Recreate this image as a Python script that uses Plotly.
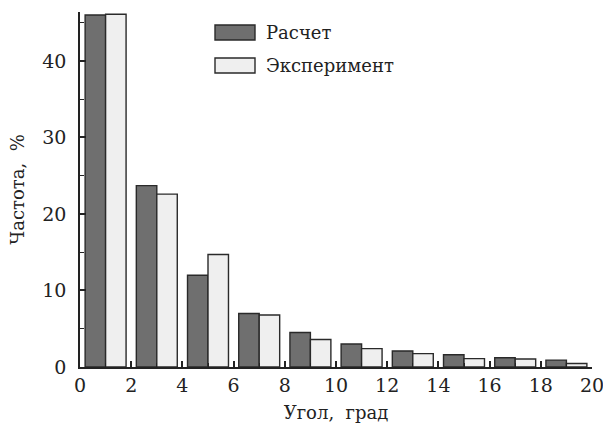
import plotly.graph_objects as go

angles = [1, 3, 5, 7, 9, 11, 13, 15, 17, 19]
calc = [46.0, 23.7, 12.0, 7.0, 4.5, 3.0, 2.1, 1.6, 1.2, 0.9]
expt = [46.1, 22.6, 14.7, 6.8, 3.6, 2.4, 1.75, 1.1, 1.05, 0.45]
x_ticks = list(range(0, 21, 2))
y_ticks = [0, 10, 20, 30, 40]
names = ["Расчет", "Эксперимент"]
fills = ["#6f6f6f", "#efefef"]
font = "DejaVu Serif"

fig = go.Figure()
for vals, nm, col in zip([calc, expt], names, fills):
    fig.add_trace(go.Bar(x=angles, y=vals, name=nm, marker=dict(color=col, line=dict(color="#2a2a2a", width=1.4)),
                         showlegend=False))

fig.update_layout(
    width=603, height=427,
    margin=dict(l=80, r=11, t=12, b=60),
    paper_bgcolor="white", plot_bgcolor="white",
    barmode="group", bargap=0.2, bargroupgap=0.0,
    font=dict(family=font, size=18, color="#222"),
)
fig.update_xaxes(range=[0, 20], tickvals=x_ticks, ticktext=[str(v) for v in x_ticks], automargin=False,
                 showline=True, linecolor="#222", linewidth=1.5, showgrid=False, zeroline=False,
                 ticks="inside", ticklen=6, tickwidth=1.5, tickcolor="#222", ticklabeloverflow="allow",
                 tickfont=dict(family=font, size=19),
                 minor=dict(ticks="inside", dtick=1, tick0=0, ticklen=4, tickwidth=1.2, tickcolor="#222"),
                 title=dict(text="Угол,  град", font=dict(family=font, size=18), standoff=12))
fig.update_yaxes(range=[0, 46.4], tickvals=y_ticks, ticktext=[str(v) for v in y_ticks], automargin=False,
                 showline=True, linecolor="#222", linewidth=1.5, showgrid=False, zeroline=False,
                 ticks="inside", ticklen=6, tickwidth=1.5, tickcolor="#222", ticklabelstandoff=8,
                 tickfont=dict(family=font, size=19), ticklabeloverflow="allow",
                 minor=dict(ticks="inside", dtick=5, tick0=0, ticklen=4, tickwidth=1.2, tickcolor="#222"),
                 title=dict(text="Частота,  %", font=dict(family=font, size=18), standoff=13))

for i, (nm, col) in enumerate(zip(names, fills)):
    y0 = 25 + i * 33
    fig.add_shape(type="rect", xref="paper", yref="paper",
                  x0=(215 - 80) / 512, x1=(255 - 80) / 512,
                  y0=1 - (y0 + 15 - 12) / 355, y1=1 - (y0 - 12) / 355,
                  fillcolor=col, line=dict(color="#2a2a2a", width=1.4))
    fig.add_annotation(xref="paper", yref="paper", x=(264 - 80) / 512, y=1 - (y0 + 7.5 - 12) / 355,
                       text=nm, showarrow=False, xanchor="left", yanchor="middle",
                       font=dict(family=font, size=18, color="#222"))

fig.write_html("out.html", config={"displayModeBar": False},
               post_script="document.body.style.margin='0';document.body.style.padding='0';")
